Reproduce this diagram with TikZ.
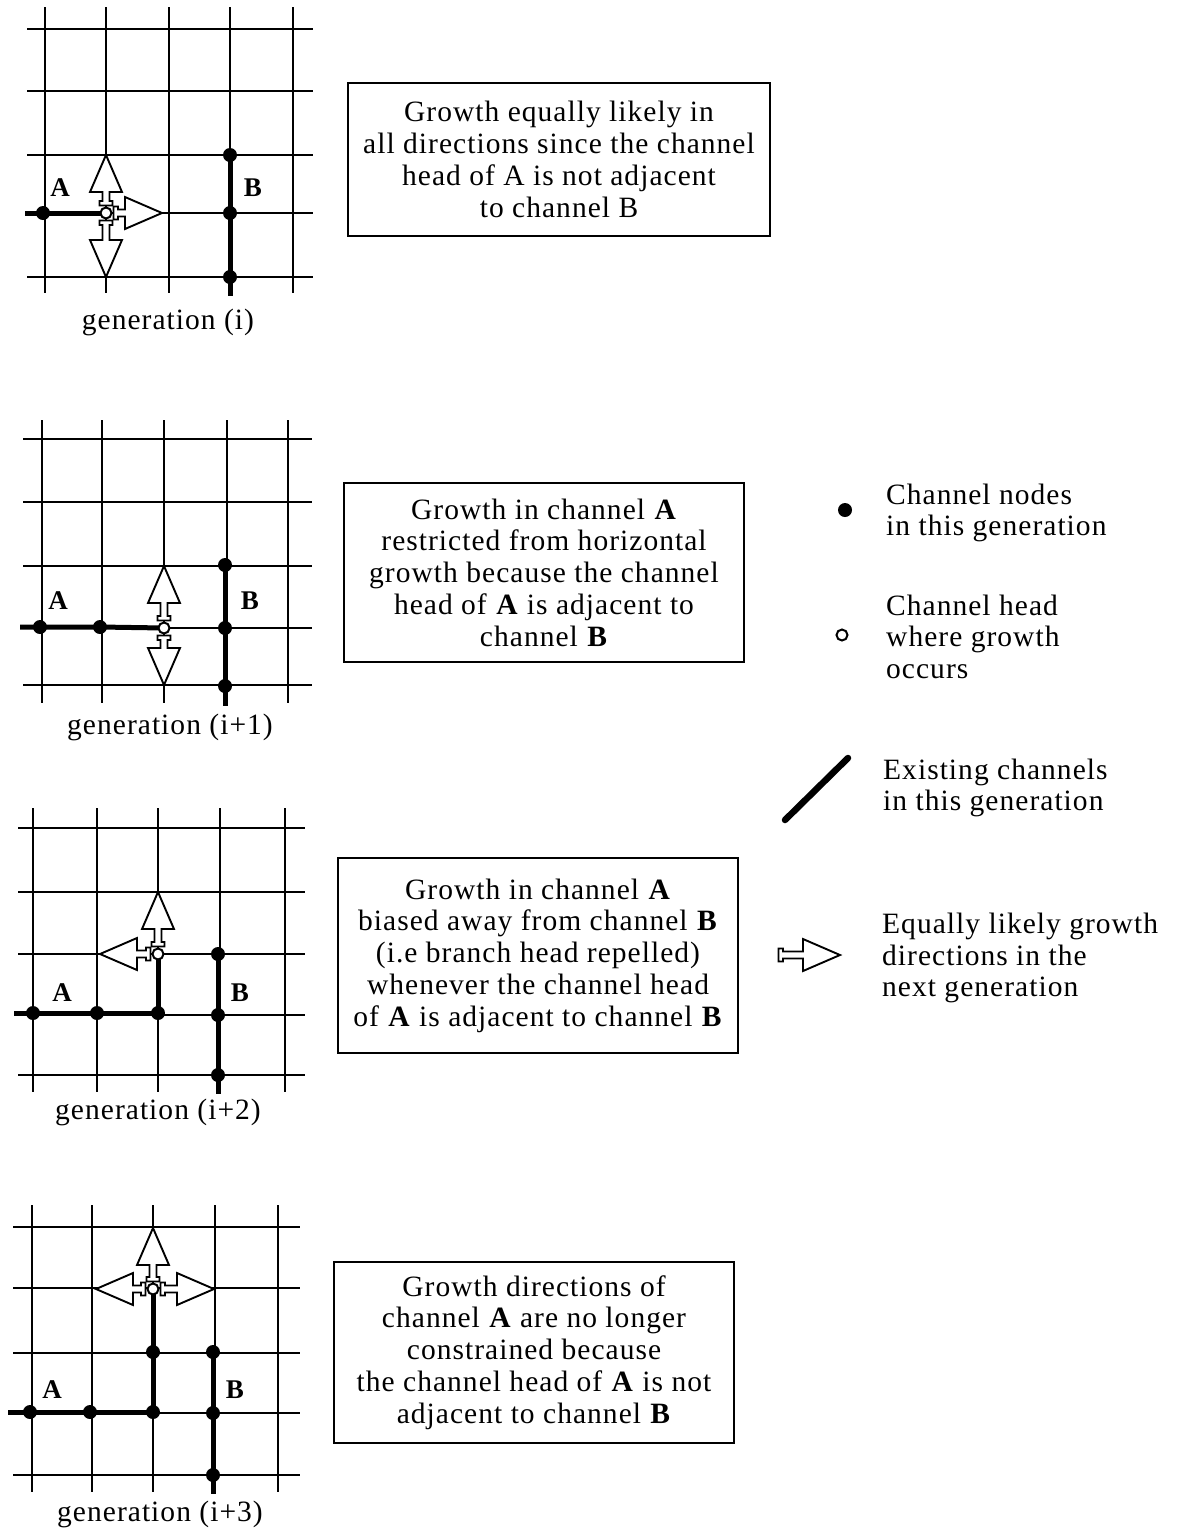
\documentclass[tikz,border=0pt]{standalone}
\usepackage{fontspec}
\setmainfont{Liberation Serif}[LetterSpace=3.5]
\tikzset{
  gridline/.style={line width=1.6pt},
  chan/.style={line width=5pt},
  cdot/.style={circle, fill=black, minimum size=14pt, inner sep=0pt},
  chead/.style={circle, draw=black, fill=white, line width=2pt, minimum size=11pt, inner sep=0pt},
  garr/.style={draw=black, fill=white, line width=1.9pt, line join=miter},
  infobox/.style={draw, line width=2.4pt, align=center, inner sep=0pt, outer sep=0pt, font=\fontsize{29.5}{31.8}\selectfont},
  lbl/.style={font=\bfseries\fontsize{27}{28}\selectfont, inner sep=0pt},
  genlbl/.style={font=\fontsize{29.5}{30}\selectfont, inner sep=0pt},
  legtext/.style={align=left, anchor=west, inner sep=0pt, font=\fontsize{29.5}{31.5}\selectfont}
}
% growth arrow: #1 head coordinate, #2 angle, #3 length to tip
\newcommand{\grarrow}[3]{%
  \begin{scope}[shift={(#1)},rotate=#2,x=1pt,y=1pt]
    \draw[garr] (7.5,6.5)--(12,6.5)--(12,3.5)--({#3-37},3.5)--({#3-37},16)--(#3,0)
      --({#3-37},-16)--({#3-37},-3.5)--(12,-3.5)--(12,-6.5)--(7.5,-6.5)--cycle;
  \end{scope}}
\begin{document}
\begin{tikzpicture}[x=1pt,y=-1pt]
\useasboundingbox (0,0) rectangle (1177,1532);

% ================= Panel 1 =================
\foreach \x in {45,106,169,230,293} \draw[gridline] (\x,7) -- (\x,293);
\foreach \y in {29,91,155,213,277} \draw[gridline] (27,\y) -- (313,\y);
\coordinate (a1s) at (25,213);
\coordinate (a1n1) at (43,213);
\coordinate (a1h) at (106,213);
\coordinate (b1n1) at (230,155);
\coordinate (b1n2) at (230,213);
\coordinate (b1n3) at (230,277);
\coordinate (b1e) at (230,296);
\draw[chan] (a1s) -- (a1n1) -- (a1h);
\draw[chan] (b1n1) -- (b1n2) -- (b1n3) -- (b1e);
\grarrow{a1h}{90}{58}
\grarrow{a1h}{270}{64}
\grarrow{a1h}{0}{56}
\node[cdot] (A1n1) at (a1n1) {};
\node[cdot] (B1n1) at (b1n1) {};
\node[cdot] (B1n2) at (b1n2) {};
\node[cdot] (B1n3) at (b1n3) {};
\node[chead] (A1h) at (a1h) {};
\node[lbl] (lA1) at (60,188) {A};
\node[lbl] (lB1) at (253,188) {B};
\node[genlbl] (g1) at (168,322) {generation (i)};

% ================= Panel 2 =================
\foreach \x in {42,102,164,227,288} \draw[gridline] (\x,420) -- (\x,703);
\foreach \y in {439,502,566,628,685} \draw[gridline] (23,\y) -- (312,\y);
\coordinate (a2s) at (20,627);
\coordinate (a2n1) at (40,627);
\coordinate (a2n2) at (100,627);
\coordinate (a2h) at (164,628);
\coordinate (b2n1) at (225,565);
\coordinate (b2n2) at (225,628);
\coordinate (b2n3) at (225,686);
\coordinate (b2e) at (225,706);
\draw[chan] (a2s) -- (a2n1) -- (a2n2) -- (a2h);
\draw[chan] (b2n1) -- (b2n2) -- (b2n3) -- (b2e);
\grarrow{a2h}{90}{62}
\grarrow{a2h}{270}{57}
\node[cdot] (A2n1) at (a2n1) {};
\node[cdot] (A2n2) at (a2n2) {};
\node[cdot] (B2n1) at (b2n1) {};
\node[cdot] (B2n2) at (b2n2) {};
\node[cdot] (B2n3) at (b2n3) {};
\node[chead] (A2h) at (a2h) {};
\node[lbl] (lA2) at (58,601) {A};
\node[lbl] (lB2) at (250,601) {B};
\node[genlbl] (g2) at (170,727) {generation (i+1)};

% ================= Panel 3 =================
\foreach \x in {33,97,158,220,285} \draw[gridline] (\x,808) -- (\x,1092);
\foreach \y in {828,892,954,1015,1075} \draw[gridline] (18,\y) -- (305,\y);
\coordinate (a3s) at (14,1013);
\coordinate (a3n1) at (33,1013);
\coordinate (a3n2) at (97,1013);
\coordinate (a3n3) at (158,1013);
\coordinate (a3h) at (158,954);
\coordinate (b3n1) at (218,954);
\coordinate (b3n2) at (218,1015);
\coordinate (b3n3) at (218,1075);
\coordinate (b3e) at (218,1094);
\draw[chan] (a3s) -- (a3n1) -- (a3n2) -- (a3n3) -- (a3h);
\draw[chan] (b3n1) -- (b3n2) -- (b3n3) -- (b3e);
\grarrow{a3h}{90}{62}
\grarrow{a3h}{180}{58}
\node[cdot] (A3n1) at (a3n1) {};
\node[cdot] (A3n2) at (a3n2) {};
\node[cdot] (A3n3) at (a3n3) {};
\node[cdot] (B3n1) at (b3n1) {};
\node[cdot] (B3n2) at (b3n2) {};
\node[cdot] (B3n3) at (b3n3) {};
\node[chead] (A3h) at (a3h) {};
\node[lbl] (lA3) at (62,993) {A};
\node[lbl] (lB3) at (240,993) {B};
\node[genlbl] (g3) at (158,1112) {generation (i+2)};

% ================= Panel 4 =================
\foreach \x in {32,92,153,215,278} \draw[gridline] (\x,1205) -- (\x,1492);
\foreach \y in {1227,1288,1353,1413,1475} \draw[gridline] (13,\y) -- (300,\y);
\coordinate (a4s) at (8,1412);
\coordinate (a4n1) at (30,1412);
\coordinate (a4n2) at (90,1412);
\coordinate (a4n3) at (153,1412);
\coordinate (a4n4) at (153,1352);
\coordinate (a4h) at (153,1289);
\coordinate (b4n1) at (213,1352);
\coordinate (b4n2) at (213,1413);
\coordinate (b4n3) at (213,1475);
\coordinate (b4e) at (213,1494);
\draw[chan] (a4s) -- (a4n1) -- (a4n2) -- (a4n3) -- (a4n4) -- (a4h);
\draw[chan] (b4n1) -- (b4n2) -- (b4n3) -- (b4e);
\grarrow{a4h}{90}{61}
\grarrow{a4h}{180}{57}
\grarrow{a4h}{0}{61}
\node[cdot] (A4n1) at (a4n1) {};
\node[cdot] (A4n2) at (a4n2) {};
\node[cdot] (A4n3) at (a4n3) {};
\node[cdot] (A4n4) at (a4n4) {};
\node[cdot] (B4n1) at (b4n1) {};
\node[cdot] (B4n2) at (b4n2) {};
\node[cdot] (B4n3) at (b4n3) {};
\node[chead] (A4h) at (a4h) {};
\node[lbl] (lA4) at (52,1390) {A};
\node[lbl] (lB4) at (235,1390) {B};
\node[genlbl] (g4) at (160,1514) {generation (i+3)};

% ================= Text boxes =================
\node[infobox, minimum width=422pt, minimum height=153pt] (box1) at (559,159.5)
  {Growth equally likely in\\all directions since the channel\\head of A is not adjacent\\to channel B};
\node[infobox, minimum width=400pt, minimum height=179pt] (box2) at (544,572.5)
  {Growth in channel \textbf{A}\\restricted from horizontal\\growth because the channel\\head of \textbf{A} is adjacent to\\channel \textbf{B}};
\node[infobox, minimum width=400pt, minimum height=195pt] (box3) at (538,955.5)
  {Growth in channel \textbf{A}\\biased away from channel \textbf{B}\\(i.e branch head repelled)\\whenever the channel head\\of \textbf{A} is adjacent to channel \textbf{B}};
\node[infobox, minimum width=400pt, minimum height=181pt] (box4) at (534,1352.5)
  {Growth directions of\\channel \textbf{A} are no longer\\constrained because\\the channel head of \textbf{A} is not\\adjacent to channel \textbf{B}};

% ================= Legend =================
\node[cdot] (ldot) at (845,510) {};
\node[legtext] (lt1) at (886,513) {Channel nodes\\in this generation};
\node[chead] (lhead) at (842,635) {};
\node[legtext] (lt2) at (886,636.5) {Channel head\\where growth\\occurs};
\coordinate (lls) at (785,820);
\coordinate (lle) at (848,758);
\draw[chan, line width=6.5pt, line cap=round] (lls) -- (lle);
\node[legtext] (lt3) at (883,788) {Existing channels\\in this generation};
\coordinate (larr) at (771,955);
\grarrow{larr}{0}{69}
\node[legtext] (lt4) at (882,958) {Equally likely growth\\directions in the\\next generation};
\end{tikzpicture}
\end{document}
